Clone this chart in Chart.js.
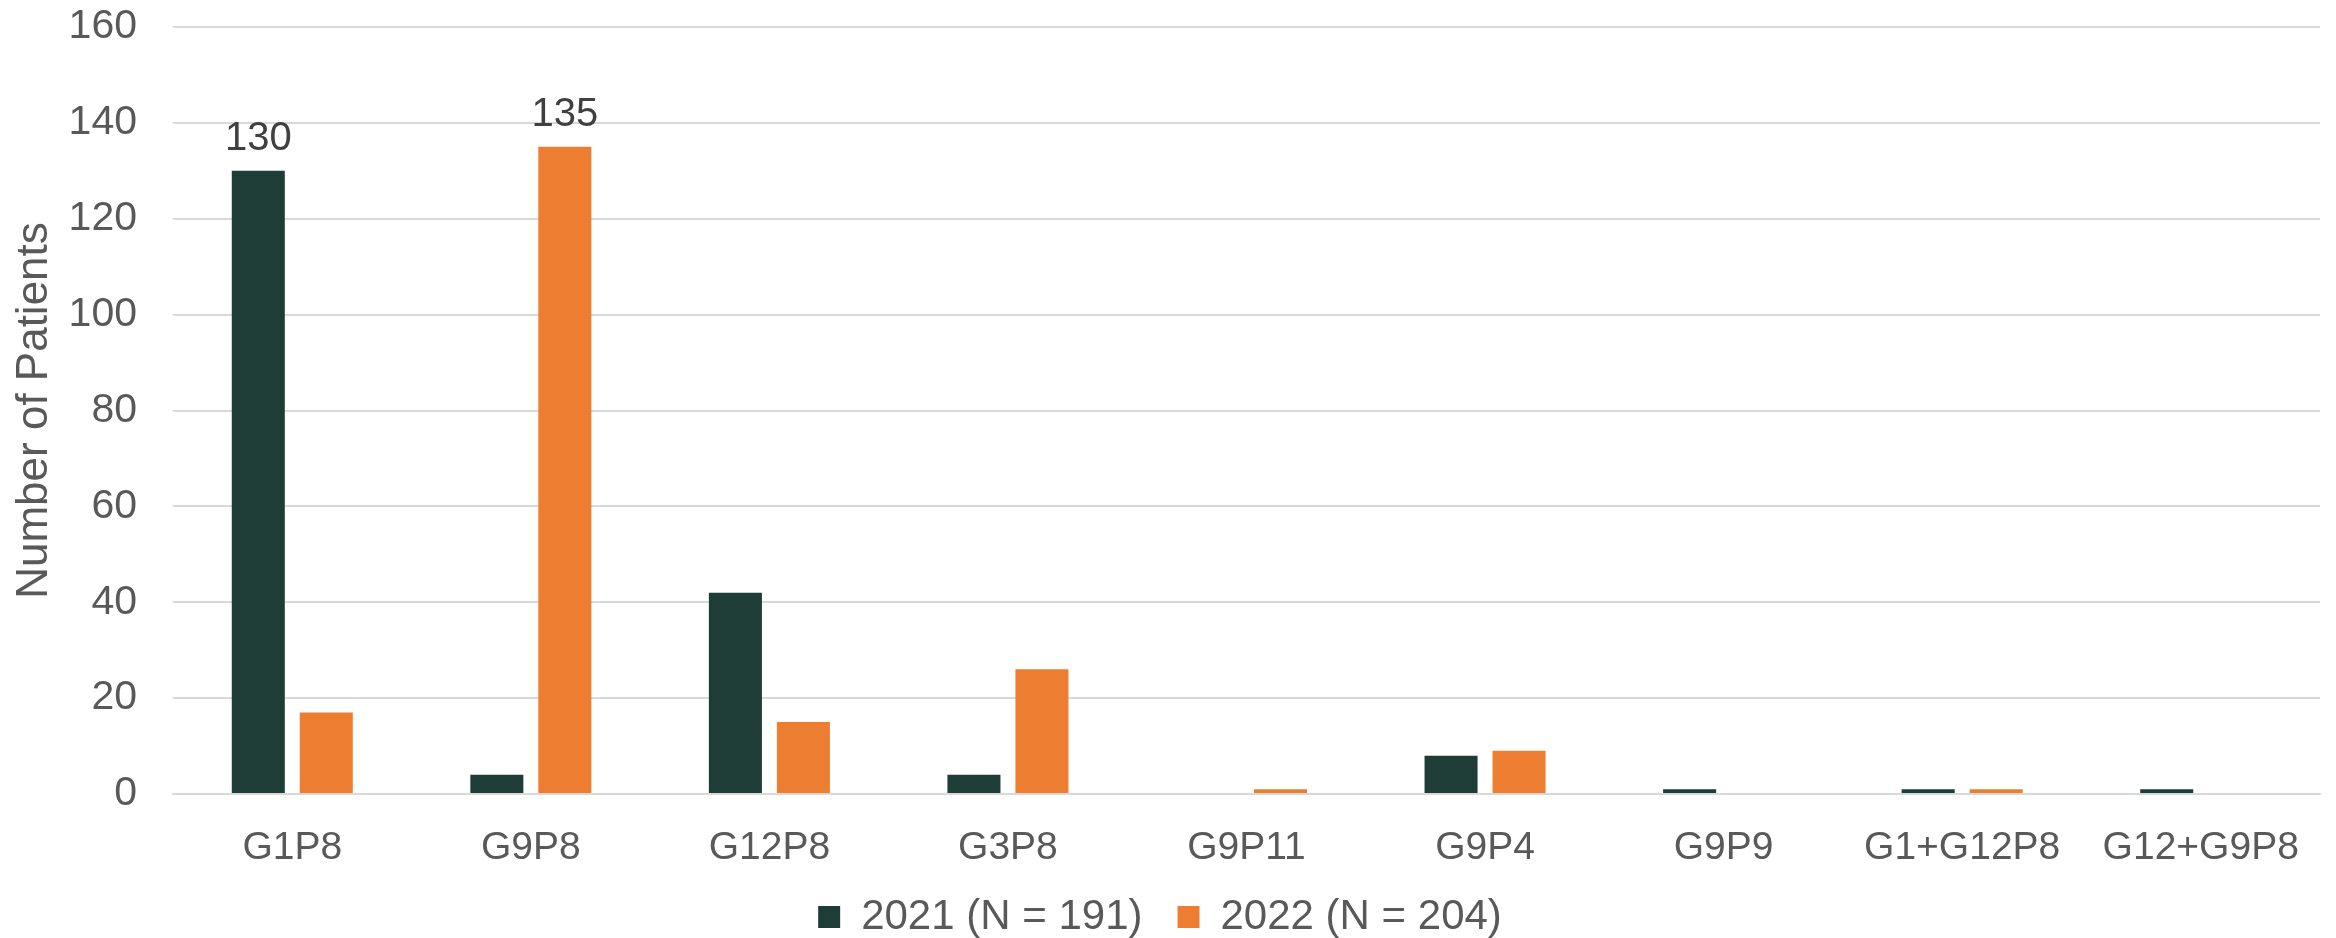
<!DOCTYPE html>
<html>
<head>
<meta charset="utf-8">
<script src="https://cdn.jsdelivr.net/npm/chart.js@4"></script>
<style>
  html, body { margin: 0; padding: 0; background: #ffffff; }
  #wrap { width: 2336px; height: 938px; }
</style>
</head>
<body>
<div id="wrap"><canvas id="genotype-chart"></canvas></div>
<script>
const genotypes = ['G1P8', 'G9P8', 'G12P8', 'G3P8', 'G9P11', 'G9P4', 'G9P9', 'G1+G12P8', 'G12+G9P8'];
const patients2021 = [130, 4, 42, 4, 0, 8, 1, 1, 1];
const patients2022 = [17, 135, 15, 26, 1, 9, 0, 1, 0];
const yTicks = [0, 20, 40, 60, 80, 100, 120, 140, 160];
// only the two peaks carry a value label in the original
const labelled = { 0: [0], 1: [1] };

const textColor = '#595959';
const fontFamily = '"Liberation Sans", Arial, sans-serif';

const peakLabels = {
  id: 'peakLabels',
  afterDatasetsDraw(chart) {
    const { ctx } = chart;
    ctx.save();
    ctx.font = `40px ${fontFamily}`;
    ctx.fillStyle = '#404040';
    ctx.textAlign = 'center';
    ctx.textBaseline = 'alphabetic';
    Object.entries(labelled).forEach(([dsIndex, idxs]) => {
      const meta = chart.getDatasetMeta(+dsIndex);
      idxs.forEach((i) => {
        const bar = meta.data[i];
        ctx.fillText(chart.data.datasets[dsIndex].data[i], bar.x, bar.y - 21);
      });
    });
    ctx.restore();
  },
};

const ctx = document.getElementById('genotype-chart');

new Chart(ctx, {
  type: 'bar',
  data: {
    labels: genotypes,
    datasets: [
      {
        label: '2021 (N = 191)',
        data: patients2021,
        backgroundColor: '#1f3d37',
        categoryPercentage: 0.57,
        barPercentage: 0.78,
      },
      {
        label: '2022 (N = 204)',
        data: patients2022,
        backgroundColor: '#ed7d31',
        categoryPercentage: 0.57,
        barPercentage: 0.78,
      },
    ],
  },
  options: {
    animation: false,
    responsive: true,
    maintainAspectRatio: false,
    // legend padding is large to space the items apart, so let it hang a bit past the edge
    layout: { padding: { left: 0, top: 27, right: 16, bottom: -10 } },
    plugins: {
      legend: {
        position: 'bottom',
        labels: {
          color: textColor,
          font: { family: fontFamily, size: 42 },
          boxWidth: 22,
          boxHeight: 22,
          padding: 35,
        },
      },
      tooltip: { enabled: false },
    },
    scales: {
      x: {
        grid: { display: false, drawTicks: false },
        border: { color: '#d9d9d9', width: 2 },
        // labels are clipped to this box, so keep it tall enough
        afterFit: (axis) => {
          axis.height = 67;
        },
        ticks: {
          color: textColor,
          font: { family: fontFamily, size: 39 },
          padding: 31,
          maxRotation: 0,
          autoSkip: false,
        },
      },
      y: {
        min: 0,
        max: 160,
        afterBuildTicks: (axis) => {
          axis.ticks = yTicks.map((v) => ({ value: v }));
        },
        afterFit: (axis) => {
          axis.width = 173;
          axis.paddingTop = 0;
          axis.paddingBottom = 0;
        },
        grid: { color: '#d9d9d9', lineWidth: 2, drawTicks: false },
        border: { display: false },
        ticks: {
          color: textColor,
          font: { family: fontFamily, size: 41 },
          padding: 36,
        },
        title: {
          display: true,
          text: 'Number of Patients',
          color: textColor,
          font: { family: fontFamily, size: 44 },
          padding: { top: 8, bottom: 0 },
        },
      },
    },
  },
  plugins: [peakLabels],
});
</script>
</body>
</html>
